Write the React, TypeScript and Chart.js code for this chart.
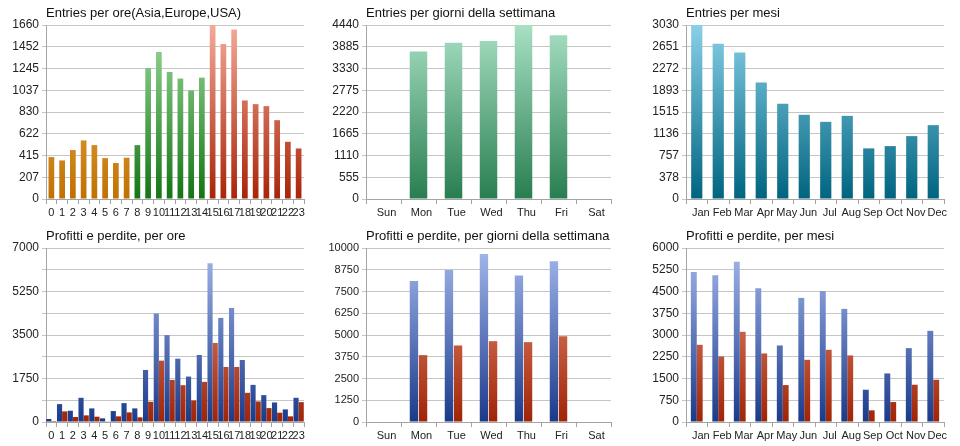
import React, { useEffect, useRef } from 'react';
import { Chart, registerables } from 'chart.js';

Chart.register(...registerables);

// ---------- categories ----------
const hours = ['0','1','2','3','4','5','6','7','8','9','10','11','12','13','14','15','16','17','18','19','20','21','22','23'];
const days = ['Sun','Mon','Tue','Wed','Thu','Fri','Sat'];
const months = ['Jan','Feb','Mar','Apr','May','Jun','Jul','Aug','Sep','Oct','Nov','Dec'];

// hour regions: Asia 0-7, Europe 8-14, USA 15-23
const europeStartHour = 8;
const usaStartHour = 15;

// ---------- series ----------
const entriesPerHour = [400,368,467,559,514,390,343,394,514,1250,1403,1212,1149,1035,1158,1660,1479,1616,940,905,886,752,546,482];
const entriesPerDay = [null,3761,3990,4033,4440,4177,null];
const entriesPerMonth = [3030,2705,2549,2028,1657,1466,1344,1448,881,921,1095,1286];

const profitPerHour = [120,720,454,974,547,147,440,760,547,2094,4362,3495,2548,1828,2695,6385,4189,4589,2495,1494,1081,787,507,974];
const lossPerHour = [40,427,200,267,213,27,227,387,187,814,2468,1694,1481,867,1614,3180,2214,2214,1174,827,560,374,227,800];

const profitPerDay = [null,8107,8738,9656,8413,9235,null];
const lossPerDay = [null,3843,4398,4646,4589,4933,null];

const profitPerMonth = [5174,5059,5530,4612,2639,4279,4520,3901,1113,1675,2547,3144];
const lossPerMonth = [2662,2260,3109,2363,1273,2145,2490,2295,402,688,1285,1457];

// ---------- y tick labels ----------
const entriesHourTicks = ['0','207','415','622','830','1037','1245','1452','1660'];
const entriesDayTicks = ['0','555','1110','1665','2220','2775','3330','3885','4440'];
const entriesMonthTicks = ['0','378','757','1136','1515','1893','2272','2651','3030'];
const plHourTicks = ['0','','1750','','3500','','5250','','7000'];
const plDayTicks = ['0','1250','2500','3750','5000','6250','7500','8750','10000'];
const plMonthTicks = ['0','750','1500','2250','3000','3750','4500','5250','6000'];

// ---------- styles ----------
const FONT = "'Liberation Sans', Arial, sans-serif";
const GRID = '#c6c6c6';
const AXIS = '#a4a4a4';
const TEXT = '#222222';

type Pal = [string, string];
const ORANGE: Pal = ['#f7c266', '#c07000'];
const GREEN: Pal = ['#9edc9e', '#137513'];
const RED: Pal = ['#f4aa98', '#a82408'];
const MINT: Pal = ['#a8e0c4', '#287e50'];
const TEAL: Pal = ['#88d0e8', '#00647f'];
const BLUE: Pal = ['#a4b8ec', '#1a3a8a'];
const BRICK: Pal = ['#f09a80', '#a02406'];

function grad(ctx: any, pal: Pal) {
  const chart = ctx.chart;
  const a = chart.chartArea;
  if (!a) return pal[1];
  const g = chart.ctx.createLinearGradient(0, a.top, 0, a.bottom);
  g.addColorStop(0, pal[0]);
  g.addColorStop(1, pal[1]);
  return g;
}

interface PanelSpec {
  title: string;
  labels: string[];
  datasets: any[];
  yTicks: string[];
  rightPad: number;
  labelOffset: number;
  yFontSize: number;
}

function makeConfig(p: PanelSpec): any {
  const yMax = Number(p.yTicks[p.yTicks.length - 1]);
  const n = p.yTicks.length - 1;
  return {
    type: 'bar',
    data: { labels: p.labels, datasets: p.datasets },
    options: {
      animation: false,
      responsive: false,
      devicePixelRatio: 1,
      layout: { padding: { left: 0, right: p.rightPad, top: 0, bottom: 0 } },
      plugins: {
        legend: { display: false },
        tooltip: { enabled: false },
        title: {
          display: true,
          text: p.title,
          align: 'start',
          fullSize: false,
          color: '#111111',
          font: { family: FONT, size: 13, weight: 'normal', lineHeight: 1.2 },
          padding: { top: 6, bottom: 3.4 },
        },
      },
      scales: {
        x: {
          offset: true,
          grid: {
            display: true,
            offset: true,
            drawOnChartArea: false,
            drawTicks: true,
            tickLength: 5,
            color: AXIS,
          },
          border: { display: true, color: AXIS },
          ticks: {
            autoSkip: false,
            maxRotation: 0,
            minRotation: 0,
            padding: 2,
            labelOffset: p.labelOffset,
            color: TEXT,
            font: { family: FONT, size: 11 },
          },
          afterFit: (s: any) => { s.height = 24; },
        },
        y: {
          min: 0,
          max: yMax,
          grid: { color: GRID, tickLength: 4, drawTicks: true },
          border: { display: true, color: AXIS },
          ticks: {
            padding: 3,
            color: TEXT,
            font: { family: FONT, size: p.yFontSize },
            callback: (_v: any, i: number) => p.yTicks[i],
          },
          afterBuildTicks: (s: any) => {
            s.ticks = p.yTicks.map((_t, i) => ({ value: (yMax * i) / n }));
          },
          afterFit: (s: any) => { s.width = 46; },
        },
      },
    },
  };
}

function Panel({ spec, left, top }: { spec: PanelSpec; left: number; top: number }) {
  const ref = useRef<HTMLCanvasElement | null>(null);
  useEffect(() => {
    if (!ref.current) return;
    const chart = new Chart(ref.current, makeConfig(spec));
    return () => chart.destroy();
  }, []);
  return (
    <div style={{ position: 'absolute', left, top, width: 320, height: 223 }}>
      <canvas ref={ref} width={320} height={223} style={{ display: 'block', width: 320, height: 223 }} />
    </div>
  );
}

const hourPal = (i: number): Pal => (i < europeStartHour ? ORANGE : i < usaStartHour ? GREEN : RED);

const panels: { spec: PanelSpec; left: number; top: number }[] = [
  {
    left: 0, top: 0,
    spec: {
      title: 'Entries per ore(Asia,Europe,USA)',
      labels: hours,
      yTicks: entriesHourTicks,
      rightPad: 16,
      labelOffset: 0,
      yFontSize: 12,
      datasets: [{
        data: entriesPerHour,
        backgroundColor: (ctx: any) => grad(ctx, hourPal(ctx.dataIndex)),
        categoryPercentage: 0.53,
        barPercentage: 1,
      }],
    },
  },
  {
    left: 320, top: 0,
    spec: {
      title: 'Entries per giorni della settimana',
      labels: days,
      yTicks: entriesDayTicks,
      rightPad: 29,
      labelOffset: 3,
      yFontSize: 12,
      datasets: [{
        data: entriesPerDay,
        backgroundColor: (ctx: any) => grad(ctx, MINT),
        categoryPercentage: 0.5,
        barPercentage: 1,
      }],
    },
  },
  {
    left: 640, top: 0,
    spec: {
      title: 'Entries per mesi',
      labels: months,
      yTicks: entriesMonthTicks,
      rightPad: 16,
      labelOffset: 4,
      yFontSize: 12,
      datasets: [{
        data: entriesPerMonth,
        backgroundColor: (ctx: any) => grad(ctx, TEAL),
        categoryPercentage: 0.52,
        barPercentage: 1,
      }],
    },
  },
  {
    left: 0, top: 223,
    spec: {
      title: 'Profitti e perdite, per ore',
      labels: hours,
      yTicks: plHourTicks,
      rightPad: 16,
      labelOffset: 0,
      yFontSize: 12,
      datasets: [
        { data: profitPerHour, backgroundColor: (ctx: any) => grad(ctx, BLUE), categoryPercentage: 0.96, barPercentage: 1 },
        { data: lossPerHour, backgroundColor: (ctx: any) => grad(ctx, BRICK), categoryPercentage: 0.96, barPercentage: 1 },
      ],
    },
  },
  {
    left: 320, top: 223,
    spec: {
      title: 'Profitti e perdite, per giorni della settimana',
      labels: days,
      yTicks: plDayTicks,
      rightPad: 29,
      labelOffset: 3,
      yFontSize: 11,
      datasets: [
        { data: profitPerDay, backgroundColor: (ctx: any) => grad(ctx, BLUE), categoryPercentage: 0.52, barPercentage: 0.92 },
        { data: lossPerDay, backgroundColor: (ctx: any) => grad(ctx, BRICK), categoryPercentage: 0.52, barPercentage: 0.92 },
      ],
    },
  },
  {
    left: 640, top: 223,
    spec: {
      title: 'Profitti e perdite, per mesi',
      labels: months,
      yTicks: plMonthTicks,
      rightPad: 16,
      labelOffset: 4,
      yFontSize: 12,
      datasets: [
        { data: profitPerMonth, backgroundColor: (ctx: any) => grad(ctx, BLUE), categoryPercentage: 0.55, barPercentage: 1 },
        { data: lossPerMonth, backgroundColor: (ctx: any) => grad(ctx, BRICK), categoryPercentage: 0.55, barPercentage: 1 },
      ],
    },
  },
];

export default function App() {
  return (
    <div style={{ position: 'absolute', left: 0, top: 0, width: 960, height: 446, background: '#ffffff', overflow: 'hidden' }}>
      {panels.map((p, i) => (
        <Panel key={i} spec={p.spec} left={p.left} top={p.top} />
      ))}
    </div>
  );
}
